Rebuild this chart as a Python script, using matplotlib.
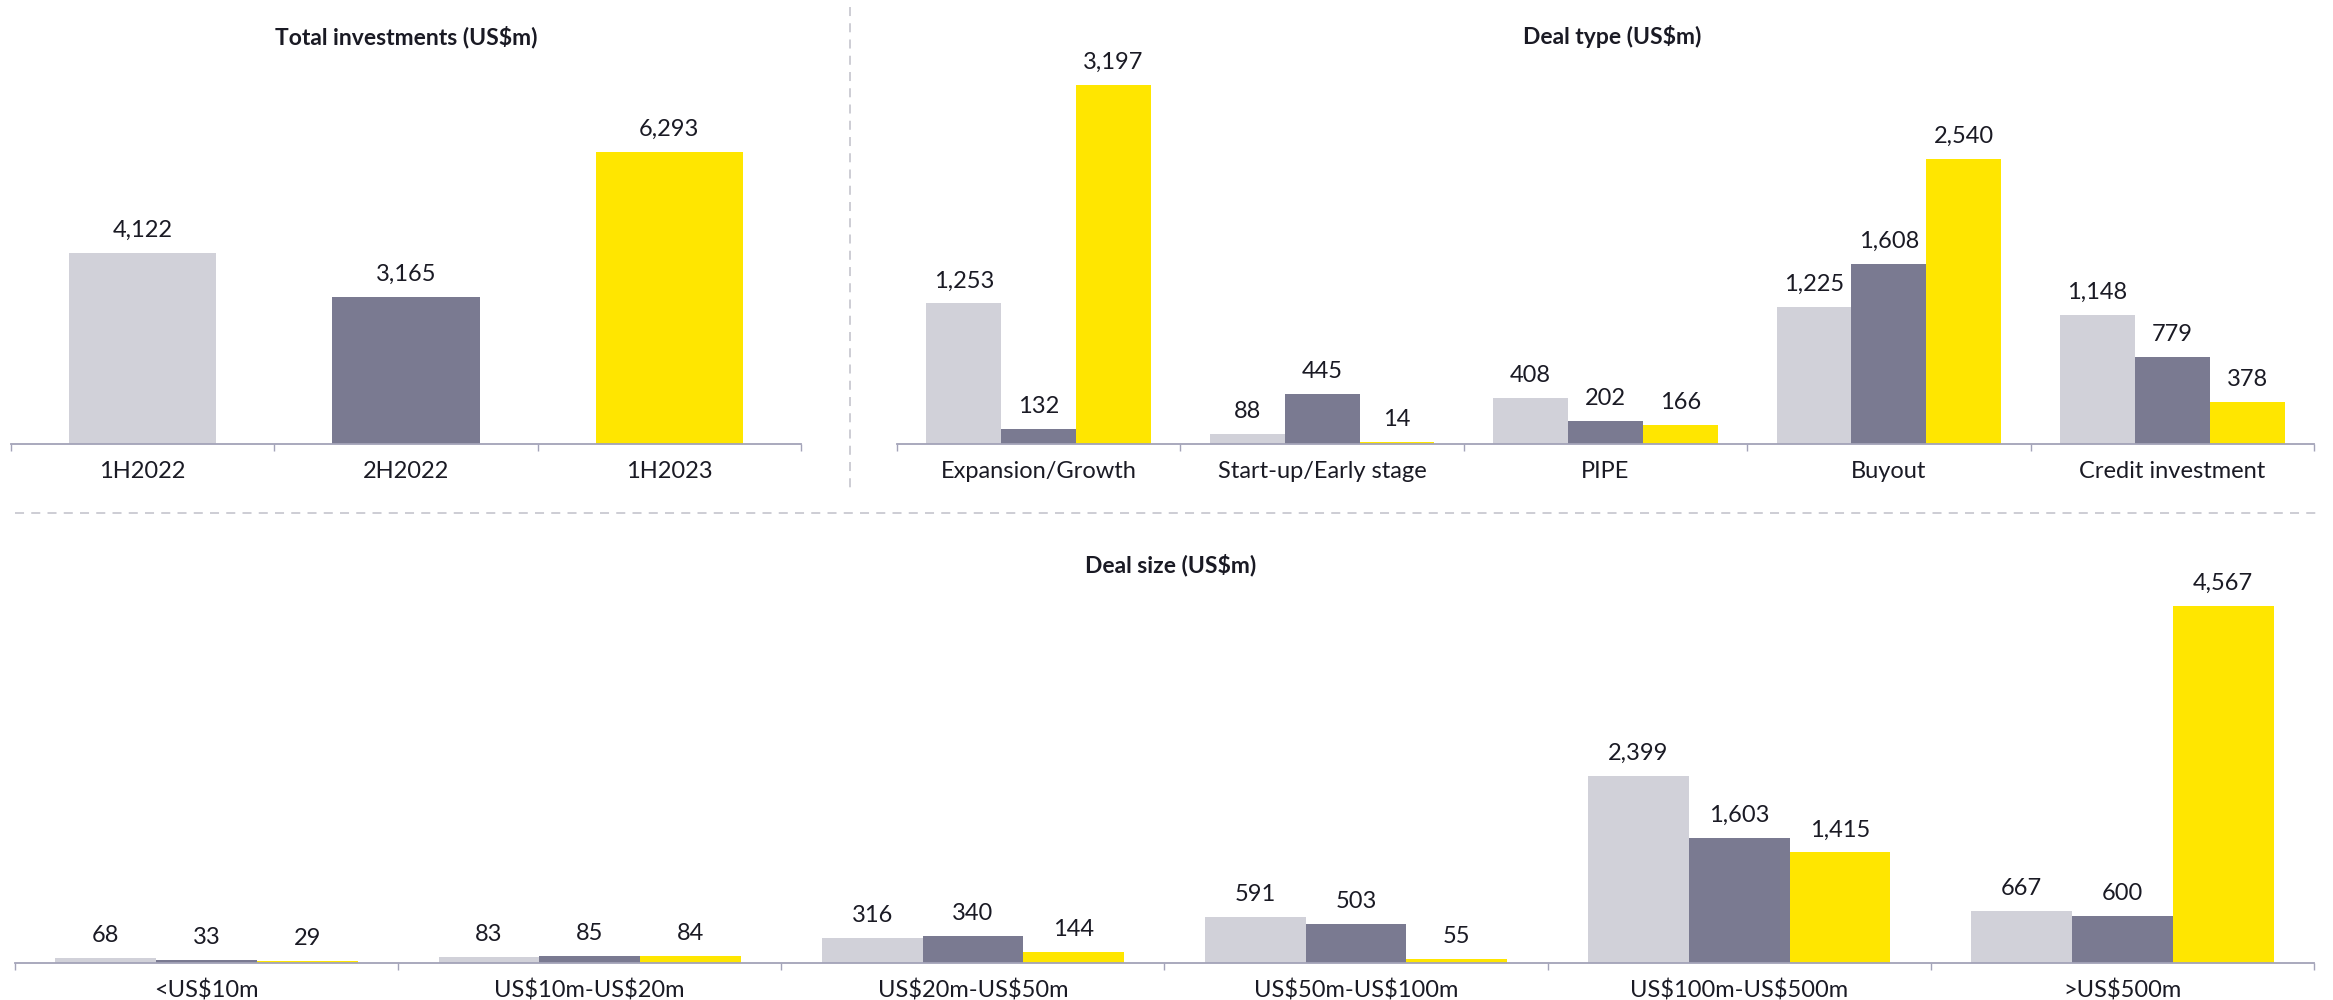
import numpy as np
import matplotlib
matplotlib.use('Agg')
import matplotlib.pyplot as plt
from matplotlib.lines import Line2D

plt.rcParams['font.family'] = ['Lato', 'DejaVu Sans']
plt.rcParams['text.parse_math'] = False

# data
periods = ['1H2022', '2H2022', '1H2023']
total_inv = [4122, 3165, 6293]

deal_types = ['Expansion/Growth', 'Start-up/Early stage', 'PIPE', 'Buyout', 'Credit investment']
type_1h22 = [1253, 88, 408, 1225, 1148]
type_2h22 = [132, 445, 202, 1608, 779]
type_1h23 = [3197, 14, 166, 2540, 378]

deal_sizes = ['<US$10m', 'US$10m-US$20m', 'US$20m-US$50m', 'US$50m-US$100m',
              'US$100m-US$500m', '>US$500m']
size_1h22 = [68, 83, 316, 591, 2399, 667]
size_2h22 = [33, 85, 340, 503, 1603, 600]
size_1h23 = [29, 84, 144, 55, 1415, 4567]

colors = ['#D1D1D9', '#7A7A91', '#FFE600']
axis_col = '#A3A3B8'
txt_col = '#1a1a24'
W, H = 2333, 1000


def style_axis(ax, n):
    for s in ['top', 'right', 'left']:
        ax.spines[s].set_visible(False)
    ax.spines['bottom'].set_color(axis_col)
    ax.spines['bottom'].set_linewidth(1.3)
    ax.set_yticks([])
    ax.set_xlim(-0.5, n - 0.5)
    ax.set_xticks(np.arange(n))
    ax.tick_params(axis='x', which='major', length=0, pad=12, labelsize=17, colors=txt_col)
    ax.set_xticks(np.arange(n + 1) - 0.5, minor=True)
    ax.tick_params(axis='x', which='minor', length=5, width=1, color=axis_col, direction='out')


def label_bars(ax, bars, vals):
    for b, v in zip(bars, vals):
        ax.annotate(f'{v:,}', (b.get_x() + b.get_width() / 2, b.get_height()),
                    xytext=(0, 12), textcoords='offset pixels',
                    ha='center', va='bottom', fontsize=17, color=txt_col)


fig = plt.figure(figsize=(23.33, 10), dpi=100)

# total investments
ax1 = fig.add_axes([11 / W, 0.556, 790 / W, 0.40])
x = np.arange(len(periods))
bars = ax1.bar(x, total_inv, width=0.56, color=colors)
label_bars(ax1, bars, total_inv)
style_axis(ax1, len(periods))
ax1.set_xticklabels(periods)
ax1.set_ylim(0, 8620)

# deal type
ax2 = fig.add_axes([897 / W, 0.556, 1417 / W, 0.40])
x = np.arange(len(deal_types))
bw = 0.264
for i, vals in enumerate([type_1h22, type_2h22, type_1h23]):
    bars = ax2.bar(x + (i - 1) * bw, vals, width=bw, color=colors[i])
    label_bars(ax2, bars, vals)
style_axis(ax2, len(deal_types))
ax2.set_xticklabels(deal_types)
ax2.set_ylim(0, 3565)

# deal size
ax3 = fig.add_axes([15 / W, 0.037, 2299 / W, 0.40])
x = np.arange(len(deal_sizes))
bw = 0.263
for i, vals in enumerate([size_1h22, size_2h22, size_1h23]):
    bars = ax3.bar(x + (i - 1) * bw, vals, width=bw, color=colors[i])
    label_bars(ax3, bars, vals)
style_axis(ax3, len(deal_sizes))
ax3.set_xticklabels(deal_sizes)
ax3.set_ylim(0, 5122)

# titles
fig.text(406 / W, 1 - 37 / H, 'Total investments (US$m)', ha='center', va='center',
         fontsize=16.5, fontweight='bold', color=txt_col)
fig.text(1612 / W, 1 - 37 / H, 'Deal type (US$m)', ha='center', va='center',
         fontsize=16.5, fontweight='bold', color=txt_col)
fig.text(1171 / W, 1 - 565 / H, 'Deal size (US$m)', ha='center', va='center',
         fontsize=16.5, fontweight='bold', color=txt_col)

# separators
fig.add_artist(Line2D([850 / W, 850 / W], [1 - 7 / H, 1 - 490 / H], transform=fig.transFigure,
                      color='#C9C9D1', lw=1.3, ls=(0, (5, 4))))
fig.add_artist(Line2D([15 / W, 2320 / W], [1 - 513 / H, 1 - 513 / H], transform=fig.transFigure,
                      color='#C9C9D1', lw=1.3, ls=(0, (5, 4))))

fig.savefig('out.png', dpi=100, facecolor='white')
